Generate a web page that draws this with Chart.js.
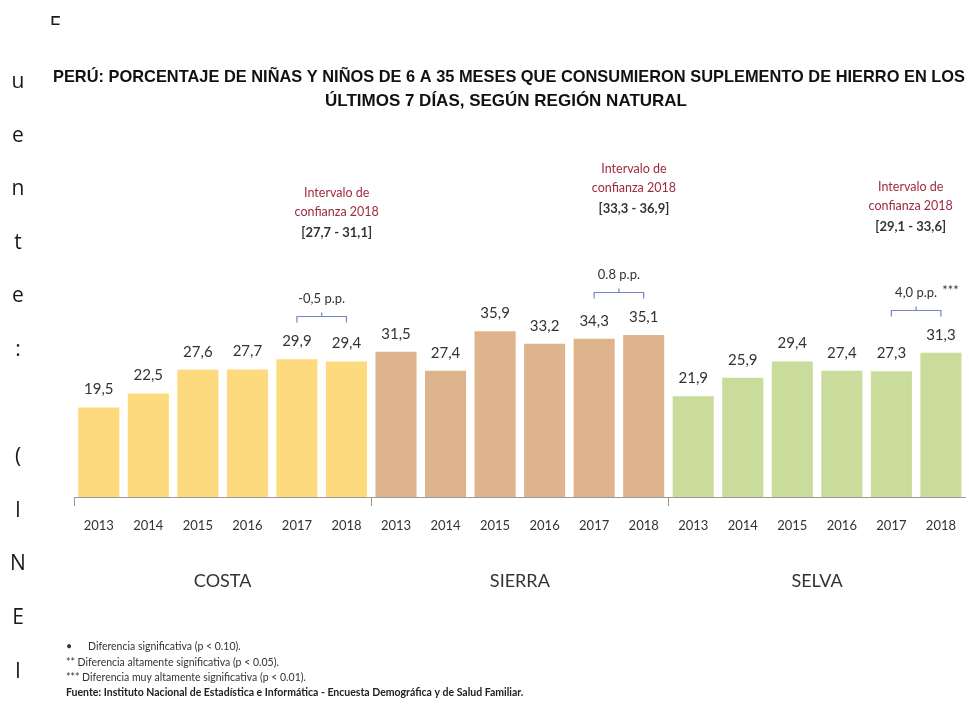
<!DOCTYPE html>
<html>
<head>
<meta charset="utf-8">
<script src="https://cdn.jsdelivr.net/npm/chart.js@4"></script>
<style>
  html, body { margin: 0; padding: 0; background: #fff; }
  #wrap { position: relative; width: 969px; height: 706px; }
</style>
</head>
<body>
<div id="wrap"><canvas id="myChart" width="969" height="706"></canvas></div>
<script>
// years per region, three regions side by side
const years = ['2013', '2014', '2015', '2016', '2017', '2018'];
const regions = ['COSTA', 'SIERRA', 'SELVA'];
const costa = [19.5, 22.5, 27.6, 27.7, 29.9, 29.4];
const sierra = [31.5, 27.4, 35.9, 33.2, 34.3, 35.1];
const selva = [21.9, 25.9, 29.4, 27.4, 27.3, 31.3];
const regionColors = ['#FDDA7E', '#DEB48C', '#CADC9B'];
const intervals = ['[27,7 - 31,1]', '[33,3 - 36,9]', '[29,1 - 33,6]'];
const diffs = ['-0,5 p.p.', '0.8 p.p.', '4,0 p.p.'];
const diffStars = ['', '', '***'];

const titleLines = [
  'PERÚ: PORCENTAJE DE NIÑAS Y NIÑOS DE 6 A 35 MESES QUE CONSUMIERON SUPLEMENTO DE HIERRO EN LOS',
  'ÚLTIMOS 7 DÍAS, SEGÚN REGIÓN NATURAL'
];
const notes = [
  ['•', 'Diferencia significativa (p < 0.10).'],
  ['**', 'Diferencia altamente significativa (p < 0.05).'],
  ['***', 'Diferencia muy altamente significativa (p < 0.01).']
];
const source = 'Fuente: Instituto Nacional de Estadística e Informática - Encuesta Demográfica y de Salud Familiar.';
const sideLetters = ['u', 'e', 'n', 't', 'e', ':', '', '(', 'I', 'N', 'E', 'I'];

const labels = [].concat(years, years, years);
const values = [].concat(costa, sierra, selva);
const colors = labels.map((l, i) => regionColors[Math.floor(i / years.length)]);

const fmt = v => v.toFixed(1).replace('.', ',');

const extras = {
  id: 'extras',
  afterDraw(chart) {
    const ctx = chart.ctx;
    const meta = chart.getDatasetMeta(0);
    const y = chart.scales.y;
    const area = chart.chartArea;
    ctx.save();

    // value labels over the bars
    ctx.fillStyle = '#333';
    ctx.font = '15px Lato';
    ctx.textAlign = 'center';
    ctx.textBaseline = 'middle';
    meta.data.forEach((bar, i) => {
      ctx.fillText(fmt(values[i]), bar.x, bar.y - 17);
    });

    // small separators under the axis between regions
    ctx.strokeStyle = '#999';
    ctx.lineWidth = 1;
    for (let g = 0; g < regions.length; g++) {
      let sx;
      if (g === 0) sx = area.left;
      else sx = (meta.data[g * 6 - 1].x + meta.data[g * 6].x) / 2;
      ctx.beginPath();
      ctx.moveTo(Math.round(sx) + 0.5, area.bottom);
      ctx.lineTo(Math.round(sx) + 0.5, area.bottom + 9);
      ctx.stroke();
    }

    regions.forEach((name, g) => {
      const first = meta.data[g * 6], last = meta.data[g * 6 + 5];
      const b17 = meta.data[g * 6 + 4], b18 = meta.data[g * 6 + 5];

      // region name
      ctx.fillStyle = '#333';
      ctx.font = '18px Lato';
      ctx.textAlign = 'center';
      ctx.fillText(name, (first.x + last.x) / 2, 581);

      // bracket between 2017 and 2018
      const top = y.getPixelForValue(Math.max(values[g * 6 + 4], values[g * 6 + 5]));
      const yb = Math.round(top - 42) + 0.5;
      const mid = (b17.x + b18.x) / 2;
      ctx.strokeStyle = '#7584C2';
      ctx.lineWidth = 1.2;
      ctx.beginPath();
      ctx.moveTo(b17.x, yb + 6);
      ctx.lineTo(b17.x, yb);
      ctx.lineTo(b18.x, yb);
      ctx.lineTo(b18.x, yb + 6);
      ctx.moveTo(mid, yb);
      ctx.lineTo(mid, yb - 4);
      ctx.stroke();

      ctx.fillStyle = '#333';
      ctx.font = '13px Lato';
      ctx.textAlign = 'center';
      ctx.fillText(diffs[g], mid, yb - 18);
      if (diffStars[g]) {
        const w = ctx.measureText(diffs[g]).width;
        ctx.textAlign = 'left';
        ctx.fillText(diffStars[g], mid + w / 2 + 5, yb - 20);
      }

      // confidence interval note
      const cx = Math.min(mid + 15, area.right - 55);
      ctx.textAlign = 'center';
      ctx.fillStyle = '#9E2A3E';
      ctx.font = '12.5px Lato';
      ctx.fillText('Intervalo de', cx, yb - 124);
      ctx.fillText('confianza 2018', cx, yb - 105);
      ctx.fillStyle = '#333';
      ctx.font = 'bold 13px Lato';
      ctx.fillText(intervals[g], cx, yb - 84);
    });

    // title
    ctx.fillStyle = '#111';
    ctx.font = 'bold 17px "Liberation Sans Narrow", "Liberation Sans", sans-serif';
    ctx.textAlign = 'center';
    ctx.fillText(titleLines[0], 509, 77, 912);
    ctx.fillText(titleLines[1], 506, 101, 362);

    // footnotes
    ctx.font = '10.5px Lato';
    ctx.textAlign = 'left';
    ctx.fillStyle = '#333';
    notes.forEach((n, i) => {
      const ly = 647 + i * 15.5;
      ctx.fillText(n[0], 66, ly);
      ctx.fillText(n[1], i === 0 ? 88 : 66 + ctx.measureText(n[0] + ' ').width, ly);
    });
    ctx.font = 'bold 10.5px Lato';
    ctx.fillStyle = '#222';
    ctx.fillText(source, 66, 693, 478);

    // vertical letters down the left edge
    ctx.font = '21px "Open Sans"';
    ctx.fillStyle = '#1a1a1a';
    ctx.textAlign = 'center';
    ctx.textBaseline = 'alphabetic';
    sideLetters.forEach((ch, i) => {
      if (ch) ctx.fillText(ch, 18, 88 + i * 53.6);
    });
    ctx.save();
    ctx.beginPath();
    ctx.rect(40, 0, 30, 25);
    ctx.clip();
    ctx.fillText('F', 55, 32);
    ctx.restore();

    ctx.restore();
  }
};

const chart = new Chart(document.getElementById('myChart'), {
  type: 'bar',
  data: {
    labels: labels,
    datasets: [{
      data: values,
      backgroundColor: colors,
      borderColor: 'rgba(255,255,255,0.35)',
      borderWidth: 1,
      barPercentage: 0.87,
      categoryPercentage: 1
    }]
  },
  options: {
    responsive: false,
    animation: false,
    layout: { padding: { left: 74, right: 0, top: 172, bottom: 169 } },
    plugins: { legend: { display: false }, tooltip: { enabled: false } },
    scales: {
      x: {
        grid: { display: false },
        border: { display: true, color: '#9a9a9a', width: 1 },
        ticks: { color: '#333', font: { family: 'Lato', size: 13 }, padding: 13, autoSkip: false, maxRotation: 0 },
        afterFit: s => { s.height = 40; }
      },
      y: { display: false, min: 0, max: 70 }
    }
  },
  plugins: [extras]
});
</script>
</body>
</html>
